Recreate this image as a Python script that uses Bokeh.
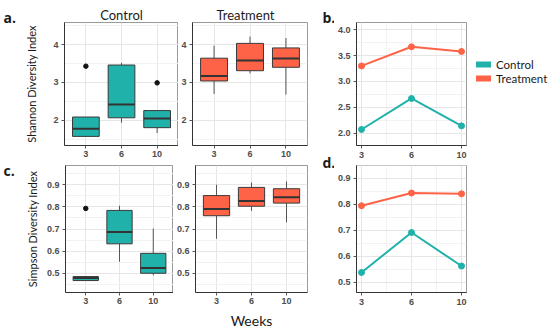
from bokeh.plotting import figure
from bokeh.models import Range1d, FixedTicker, Legend, LegendItem, ColumnDataSource, NumeralTickFormatter
from bokeh.layouts import column, row
from bokeh.embed import file_html
from bokeh.resources import INLINE
from bokeh.core.properties import value

# ---------------- data ----------------
weeks = ["3", "6", "10"]
groups = ["Control", "Treatment"]
panel_letters = ["a.", "b.", "c.", "d."]
shannon_label = "Shannon Diversity Index"
simpson_label = "Simpson Diversity Index"
x_label = "Weeks"

# Shannon diversity, Control (box stats)
sh_ctrl_lower = [1.58, 1.94, 1.67]
sh_ctrl_q1 = [1.58, 2.07, 1.81]
sh_ctrl_med = [1.78, 2.42, 2.05]
sh_ctrl_q3 = [2.09, 3.46, 2.26]
sh_ctrl_upper = [2.09, 3.52, 2.26]
sh_ctrl_out_weeks = ["3", "10"]
sh_ctrl_out_vals = [3.43, 2.99]

# Shannon diversity, Treatment
sh_trt_lower = [2.70, 3.24, 2.68]
sh_trt_q1 = [3.04, 3.31, 3.40]
sh_trt_med = [3.17, 3.58, 3.63]
sh_trt_q3 = [3.64, 4.03, 3.91]
sh_trt_upper = [3.97, 4.21, 4.17]

# Simpson diversity, Control
si_ctrl_lower = [0.467, 0.552, 0.491]
si_ctrl_q1 = [0.467, 0.633, 0.500]
si_ctrl_med = [0.478, 0.686, 0.524]
si_ctrl_q3 = [0.485, 0.784, 0.590]
si_ctrl_upper = [0.485, 0.805, 0.702]
si_ctrl_out_weeks = ["3"]
si_ctrl_out_vals = [0.793]

# Simpson diversity, Treatment
si_trt_lower = [0.656, 0.782, 0.730]
si_trt_q1 = [0.760, 0.803, 0.817]
si_trt_med = [0.790, 0.827, 0.844]
si_trt_q3 = [0.851, 0.888, 0.882]
si_trt_upper = [0.900, 0.910, 0.915]

# Mean lines
sh_mean_ctrl = [2.07, 2.67, 2.14]
sh_mean_trt = [3.30, 3.67, 3.58]
si_mean_ctrl = [0.537, 0.691, 0.562]
si_mean_trt = [0.794, 0.843, 0.840]

sh_box_ticks = [2, 3, 4]
sh_box_minor = [1.5, 2.5, 3.5, 4.5]
sh_line_ticks = [2.0, 2.5, 3.0, 3.5, 4.0]
sh_line_minor = [1.75, 2.25, 2.75, 3.25, 3.75]
si_ticks = [0.5, 0.6, 0.7, 0.8, 0.9]
si_minor = [0.45, 0.55, 0.65, 0.75, 0.85, 0.95]

# ---------------- style ----------------
TEAL = "#20B2AA"
CORAL = "#FF6347"
OUTLINE = "#3a3a3a"
WHISK = "#555555"
BW = 0.75
FONT = "Lato"
LETTER_FONT = "Open Sans"
TICKFONT = "Liberation Sans"
TXT = "#1a1a1a"

xpos = [i + 1 for i in range(len(weeks))]
xlabels = {x: w for x, w in zip(xpos, weeks)}


def make_fig(width, height, ml, mr, mt, mb, xr, yr, yticks, yminor, xminor=None, fmt=None):
    p = figure(width=width, height=height, x_range=xr, y_range=yr,
               output_backend="svg", toolbar_location=None,
               min_border_left=ml, min_border_right=mr, min_border_top=mt, min_border_bottom=mb)
    p.outline_line_color = "#9a9a9a"
    p.outline_line_width = 1
    xt = FixedTicker(ticks=xpos, minor_ticks=xminor or [])
    yt = FixedTicker(ticks=yticks, minor_ticks=yminor)
    p.xaxis.ticker = xt
    p.xgrid.ticker = xt
    p.yaxis.ticker = yt
    p.ygrid.ticker = yt
    p.xaxis.major_label_overrides = xlabels
    if fmt:
        p.yaxis.formatter = NumeralTickFormatter(format=fmt)
    for ax in p.xaxis + p.yaxis:
        ax.axis_line_color = "#333333"
        ax.axis_line_width = 1
        ax.major_tick_line_color = "#555555"
        ax.major_tick_out = 3
        ax.major_tick_in = 0
        ax.minor_tick_line_color = None
        ax.major_label_standoff = 2
        ax.major_label_text_font = TICKFONT
        ax.major_label_text_font_size = "9px"
        ax.major_label_text_font_style = "bold"
        ax.major_label_text_color = "#4d4d4d"
        ax.axis_label_text_font = FONT
        ax.axis_label_text_font_style = "normal"
        ax.axis_label_text_color = TXT
    for g in (p.xgrid, p.ygrid):
        g.grid_line_color = "#e6e6e6"
        g.grid_line_width = 1
        g.minor_grid_line_color = "#f2f2f2"
        g.minor_grid_line_width = 1
    return p


def text_fig(width, height):
    # blank strip whose data units equal pixels (y downwards), used to hold free text
    p = figure(width=width, height=height, x_range=Range1d(0, width), y_range=Range1d(height, 0),
               output_backend="svg", toolbar_location=None, x_axis_type=None, y_axis_type=None,
               min_border_left=0, min_border_right=0, min_border_top=0, min_border_bottom=0)
    p.outline_line_color = None
    p.grid.visible = False
    return p


def put_text(p, x, y, txt, size, font=FONT, bold=False, align="left"):
    p.text(x=[x], y=[y], text=[txt], text_font=value(font), text_font_size=size,
           text_font_style="bold" if bold else "normal", text_color=TXT,
           text_align=align, text_baseline="alphabetic")


def box_panel(p, lower, q1, med, q3, upper, color, out_weeks=None, out_vals=None):
    src = ColumnDataSource(dict(x=xpos, lower=lower, q1=q1, med=med, q3=q3, upper=upper,
                                left=[x - BW / 2 for x in xpos], right=[x + BW / 2 for x in xpos]))
    p.segment(x0="x", y0="lower", x1="x", y1="q1", source=src, line_color=WHISK, line_width=1)
    p.segment(x0="x", y0="q3", x1="x", y1="upper", source=src, line_color=WHISK, line_width=1)
    p.vbar(x="x", width=BW, bottom="q1", top="q3", source=src,
           fill_color=color, line_color=OUTLINE, line_width=1)
    p.segment(x0="left", y0="med", x1="right", y1="med", source=src, line_color="#333333", line_width=2)
    if out_vals:
        p.scatter(x=[xpos[weeks.index(w)] for w in out_weeks], y=out_vals, size=4.5,
                  color="#111111")


def line_panel(p, ctrl, trt):
    p.line(xpos, ctrl, line_color=TEAL, line_width=2)
    p.scatter(xpos, ctrl, size=6, color=TEAL)
    p.line(xpos, trt, line_color=CORAL, line_width=2)
    p.scatter(xpos, trt, size=6, color=CORAL)


box_xr = lambda: Range1d(0.4, len(weeks) + 0.6)
line_xr = lambda: Range1d(0.9, len(weeks) + 0.1)

TOTAL_H = 332

# ---------------- left letters strip ----------------
L = text_fig(22, TOTAL_H)
put_text(L, 3, 17, panel_letters[0], "14px", font=LETTER_FONT, bold=True)
put_text(L, 3, 170, panel_letters[2], "14px", font=LETTER_FONT, bold=True)

# ---------------- group titles strip ----------------
T = text_fig(292, 21)
put_text(T, 99, 14, groups[0], "13px", align="center")
put_text(T, 223, 14, groups[1], "13px", align="center")

# ---------------- Shannon boxes ----------------
a1 = make_fig(156, 140, 39, 0, 1, 16, box_xr(), Range1d(1.34, 4.58), sh_box_ticks, sh_box_minor)
box_panel(a1, sh_ctrl_lower, sh_ctrl_q1, sh_ctrl_med, sh_ctrl_q3, sh_ctrl_upper, TEAL,
          sh_ctrl_out_weeks, sh_ctrl_out_vals)
a1.yaxis.axis_label = shannon_label
a1.yaxis.axis_label_text_font_size = "11px"
a1.yaxis.axis_label_standoff = 12

a2 = make_fig(136, 140, 12, 7, 1, 16, box_xr(), Range1d(1.34, 4.58), sh_box_ticks, sh_box_minor)
box_panel(a2, sh_trt_lower, sh_trt_q1, sh_trt_med, sh_trt_q3, sh_trt_upper, CORAL)

# ---------------- Simpson boxes ----------------
c1 = make_fig(151, 171, 38, 0, 4, 40, box_xr(), Range1d(0.413, 0.987), si_ticks, si_minor)
box_panel(c1, si_ctrl_lower, si_ctrl_q1, si_ctrl_med, si_ctrl_q3, si_ctrl_upper, TEAL,
          si_ctrl_out_weeks, si_ctrl_out_vals)
c1.yaxis.axis_label = simpson_label
c1.yaxis.axis_label_text_font_size = "11px"
c1.yaxis.axis_label_standoff = 5

c2 = make_fig(141, 171, 20, 7, 4, 40, box_xr(), Range1d(0.413, 0.987), si_ticks, si_minor)
box_panel(c2, si_trt_lower, si_trt_q1, si_trt_med, si_trt_q3, si_trt_upper, CORAL)
c2.xaxis.axis_label = x_label
c2.xaxis.axis_label_text_font_size = "14px"
c2.xaxis.axis_label_standoff = 5

# ---------------- middle letters strip ----------------
M = text_fig(20, TOTAL_H)
put_text(M, 8, 17, panel_letters[1], "14px", font=LETTER_FONT, bold=True)
put_text(M, 8, 162, panel_letters[3], "14px", font=LETTER_FONT, bold=True)

# ---------------- mean lines ----------------
b = make_fig(133, 161, 19, 1, 22, 16, line_xr(), Range1d(1.76, 4.14), sh_line_ticks, sh_line_minor,
             xminor=[1.5, 2.5], fmt="0.0")
line_panel(b, sh_mean_ctrl, sh_mean_trt)

d = make_fig(133, 171, 18, 1, 4, 40, line_xr(), Range1d(0.46, 0.949), si_ticks, si_minor,
             xminor=[1.5, 2.5], fmt="0.0")
line_panel(d, si_mean_ctrl, si_mean_trt)

# ---------------- legend strip ----------------
R = text_fig(81, TOTAL_H)
nan = float("nan")
r_c = R.line(x=[nan], y=[nan], line_color=TEAL, line_width=6, line_cap="round")
r_t = R.line(x=[nan], y=[nan], line_color=CORAL, line_width=6, line_cap="round")
leg = Legend(items=[LegendItem(label=groups[0], renderers=[r_c]),
                    LegendItem(label=groups[1], renderers=[r_t])],
             location=(9, TOTAL_H - 85), padding=0, margin=0, spacing=0,
             glyph_width=15, glyph_height=14, label_height=14, label_standoff=5,
             label_text_font=FONT, label_text_font_size="11.5px", label_text_color=TXT,
             label_text_baseline="middle",
             border_line_color=None, background_fill_alpha=0)
R.add_layout(leg)

layout = row(L,
             column(T, row(a1, a2), row(c1, c2)),
             M,
             column(b, d),
             R)

with open("out.html", "w") as f:
    f.write(file_html(layout, INLINE))
